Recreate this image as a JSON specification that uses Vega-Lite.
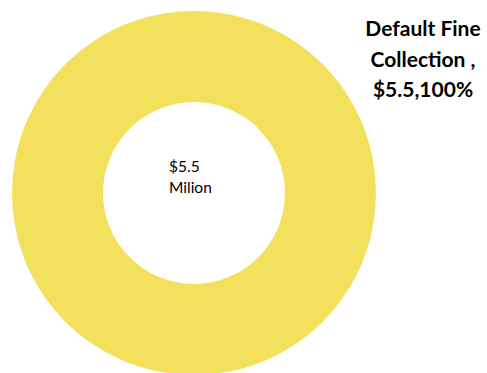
{
  "$schema": "https://vega.github.io/schema/vega-lite/v6.json",
  "padding": 0,
  "spacing": 0,
  "bounds": "flush",
  "config": {"view": {"stroke": null}, "concat": {"spacing": 0}},
  "datasets": {
    "fines": [
      {"category": "Default Fine Collection", "value": 5.5, "percent": "100%", "center": ["$5.5", "Milion"], "label": ["Default Fine", "Collection ,", "$5.5,100%"]}
    ]
  },
  "hconcat": [
    {
      "width": 388,
      "height": 386,
      "data": {"name": "fines"},
      "layer": [
        {
          "mark": {"type": "arc", "radius": 182, "radius2": 91, "color": "#F3E05C"},
          "encoding": {"theta": {"field": "value", "type": "quantitative"}}
        },
        {
          "mark": {"type": "arc", "radius": 137.6, "radius2": 136.8, "color": "#F6E676"},
          "encoding": {"theta": {"field": "value", "type": "quantitative"}}
        },
        {
          "mark": {"type": "text", "font": "Lato", "fontSize": 15.5, "lineHeight": 21, "align": "left", "baseline": "alphabetic", "dx": -25, "dy": -21, "color": "#000000"},
          "encoding": {"text": {"field": "center"}}
        }
      ]
    },
    {
      "width": 70,
      "height": 72,
      "data": {"name": "fines"},
      "mark": {"type": "text", "font": "Lato", "fontSize": 21, "fontWeight": "bold", "lineHeight": 30.5, "align": "center", "baseline": "alphabetic", "color": "#000000"},
      "encoding": {"text": {"field": "label"}}
    }
  ]
}
